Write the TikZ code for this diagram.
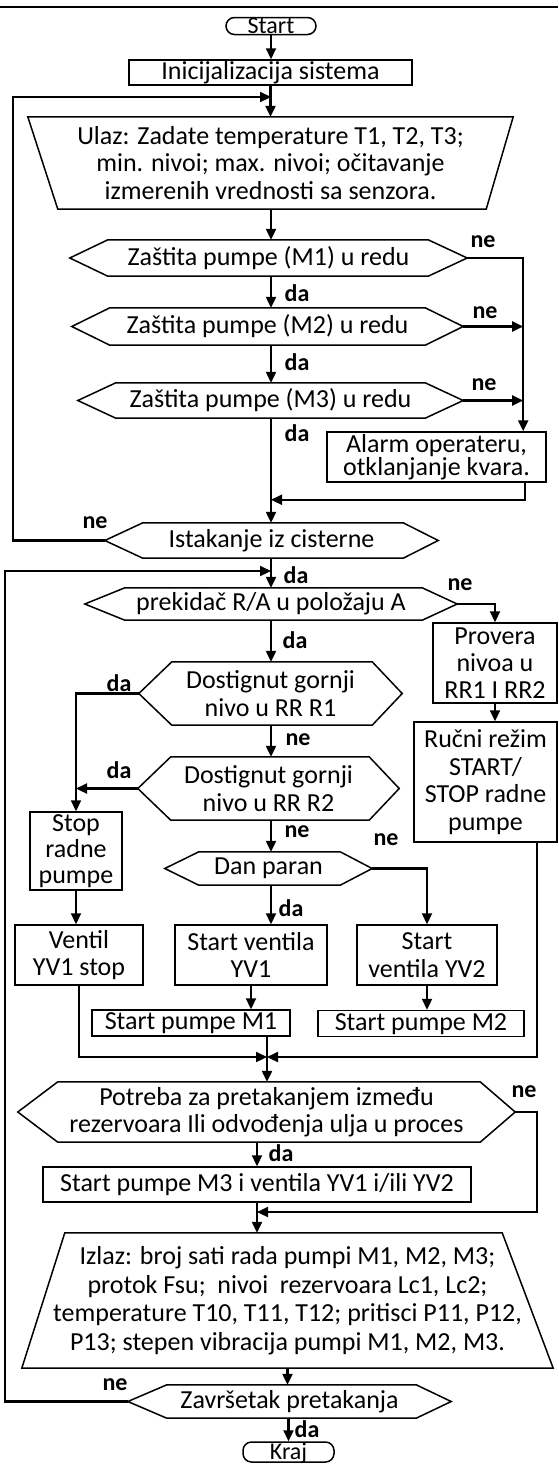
\documentclass[tikz,border=0pt]{standalone}
\usepackage{fontspec}
\setmainfont{Carlito}
\usetikzlibrary{arrows.meta,calc}
\tikzset{
  shp/.style={draw=black,line width=1.5pt},
  tx/.style={inner sep=0pt,align=center,font=\fontsize{26}{27.5}\selectfont},
  rbox/.style={tx,shp},
  term/.style={tx,shp,rounded corners=8.5pt,font=\fontsize{24}{26}\selectfont},
  con/.style={line width=2.2pt},
  arr/.style={con,-{Triangle[length=11pt,width=10pt]}},
  lbl/.style={inner sep=0pt,font=\bfseries\fontsize{24}{26}\selectfont},
}
\newcommand\hexa[3]{\draw[shp] (#1.west) -- ([xshift=#2]#1.north west) -- ([xshift=-#3]#1.north east) -- (#1.east) -- ([xshift=-#3]#1.south east) -- ([xshift=#2]#1.south west) -- cycle;}
\newcommand\trapdn[3]{\draw[shp] (#1.north west) -- (#1.north east) -- ([xshift=-#3]#1.south east) -- ([xshift=#2]#1.south west) -- cycle;}
\newcommand\trapup[3]{\draw[shp] ([xshift=#2]#1.north west) -- ([xshift=-#3]#1.north east) -- (#1.south east) -- (#1.south west) -- cycle;}
\begin{document}
\begin{tikzpicture}[x=1pt,y=-1pt]
\useasboundingbox (0,0) rectangle (558,1465);
\fill[white] (0,0) rectangle (558,1465);
\draw[line width=1.5pt] (0,7) -- (558,7);

% nodes
\node[term,minimum width=90pt,minimum height=17pt,text height=15.5pt,text depth=1.5pt] (start) at (271,26) {Start};
\node[rbox,minimum width=283pt,minimum height=25pt,text height=18pt,text depth=5pt] (init) at (270.5,72.5) {Inicijalizacija sistema};
\node[tx,minimum width=485pt,minimum height=92pt] (ulaz) at (270.5,163) {Ulaz: Zadate temperature T1, T2, T3;\\ min. nivoi; max. nivoi; očitavanje\\ izmerenih vrednosti sa senzora.};
\trapdn{ulaz}{30pt}{27pt}
\node[tx,minimum width=397pt,minimum height=36pt] (z1) at (268.5,258) {Zaštita pumpe (M1) u redu};
\hexa{z1}{38pt}{39pt}
\node[tx,minimum width=391pt,minimum height=37pt] (z2) at (267.5,326.5) {Zaštita pumpe (M2) u redu};
\hexa{z2}{38pt}{38pt}
\node[tx,minimum width=385pt,minimum height=35pt] (z3) at (270.5,400.5) {Zaštita pumpe (M3) u redu};
\hexa{z3}{38pt}{38pt}
\node[rbox,minimum width=219pt,minimum height=50pt,font=\fontsize{26}{23.5}\selectfont] (alarm) at (436.5,457) {Alarm operateru,\\ otklanjanje kvara.};
\node[tx,minimum width=333pt,minimum height=35pt] (ist) at (271.5,540.5) {Istakanje iz cisterne};
\hexa{ist}{38pt}{35pt}
\node[tx,minimum width=372pt,minimum height=32pt] (prek) at (271,604) {prekidač R/A u položaju A};
\hexa{prek}{40pt}{35pt}
\node[rbox,minimum width=124pt,minimum height=80pt,font=\fontsize{26}{27}\selectfont] (prov) at (495,663) {Provera\\ nivoa u\\ RR1 I RR2};
\node[rbox,minimum width=143pt,minimum height=120pt] (rucni) at (485.5,782) {Ručni režim\\ START/\\ STOP radne\\ pumpe};
\node[tx,minimum width=263pt,minimum height=63pt] (d1) at (270.5,693.5) {Dostignut gornji\\ nivo u RR R1};
\hexa{d1}{33pt}{30pt}
\node[tx,minimum width=261pt,minimum height=63pt] (d2) at (268.5,788.5) {Dostignut gornji\\ nivo u RR R2};
\hexa{d2}{33pt}{30pt}
\node[rbox,minimum width=92pt,minimum height=78pt,font=\fontsize{26}{26}\selectfont] (stop) at (76,851) {Stop\\ radne\\ pumpe};
\node[tx,minimum width=207pt,minimum height=33pt] (dan) at (268.5,868.5) {Dan paran};
\hexa{dan}{34pt}{32pt}
\node[rbox,minimum width=128pt,minimum height=60pt] (ventil) at (79,955) {Ventil\\ YV1 stop};
\node[rbox,minimum width=152pt,minimum height=60pt] (syv1) at (251,955) {Start ventila\\ YV1};
\node[rbox,minimum width=140pt,minimum height=60pt] (syv2) at (427,955) {Start\\ ventila YV2};
\node[rbox,minimum width=198pt,minimum height=26pt,text height=18pt,text depth=5pt] (m1) at (191,1023) {Start pumpe M1};
\node[rbox,minimum width=206pt,minimum height=26pt,text height=18pt,text depth=5pt] (m2) at (421,1023.5) {Start pumpe M2};
\node[tx,minimum width=497pt,minimum height=60pt] (pot) at (266.5,1112) {Potreba za pretakanjem između\\ rezervoara Ili odvođenja ulja u proces};
\hexa{pot}{40pt}{35pt}
\node[rbox,minimum width=428pt,minimum height=35pt] (m3) at (257,1184.5) {Start pumpe M3 i ventila YV1 i/ili YV2};
\node[tx,minimum width=531pt,minimum height=135pt,font=\fontsize{26}{28.5}\selectfont] (izl) at (287.5,1300.5) {Izlaz: broj sati rada pumpi M1, M2, M3;\\ protok Fsu;~ nivoi~ rezervoara Lc1, Lc2;\\ temperature T10, T11, T12; pritisci P11, P12,\\ P13; stepen vibracija pumpi M1, M2, M3.};
\trapup{izl}{43pt}{51pt}
\node[tx,minimum width=323pt,minimum height=33pt] (zav) at (289.5,1401.5) {Završetak pretakanja};
\hexa{zav}{39pt}{35pt}
\node[term,minimum width=91pt,minimum height=20pt,text height=17pt,text depth=3pt] (kraj) at (288.5,1452) {Kraj};

% labels
\node[lbl] (n1) at (483,242) {ne};
\node[lbl] (n2) at (485,313) {ne};
\node[lbl] (n3) at (484,385) {ne};
\node[lbl] (a1) at (297,293) {da};
\node[lbl] (a2) at (297,362) {da};
\node[lbl] (a3) at (297,433) {da};
\node[lbl] (n4) at (95,523) {ne};
\node[lbl] (a4) at (296,575) {da};
\node[lbl] (n5) at (460,585) {ne};
\node[lbl] (a5) at (295,640) {da};
\node[lbl] (a6) at (119,683) {da};
\node[lbl] (n6) at (298,740) {ne};
\node[lbl] (a7) at (119,770) {da};
\node[lbl] (n7) at (297,832) {ne};
\node[lbl] (n8) at (386,840) {ne};
\node[lbl] (a8) at (291,908) {da};
\node[lbl] (n9) at (524,1092) {ne};
\node[lbl] (a9) at (281,1153) {da};
\node[lbl] (n10) at (115,1385) {ne};
\node[lbl] (a10) at (307,1429) {da};

% connectors
\coordinate (j1) at (271,97);
\coordinate (j2) at (271,571);
\coordinate (j3) at (267,1057);
\coordinate (j4) at (257,1212);
\draw[arr] (start.south) -- (start.south |- init.north);
\draw[arr] (init.south) -- (init.south |- ulaz.north);
\draw[arr] (ist.west) -- ++(-92,0) |- (j1);
\draw[arr] (ulaz.south -| j1) -- (z1.north -| j1);
\draw[arr] (z1.south -| j1) -- (z2.north -| j1);
\draw[arr] (z2.south -| j1) -- (z3.north -| j1);
\draw[arr] (z3.south -| j1) -- (ist.north -| j1);
\draw[arr] (z1.east) -- ++(56,0) coordinate (c1) -- (c1 |- alarm.north);
\draw[arr] (z2.east) -- (z2.east -| c1);
\draw[arr] (z3.east) -- (z3.east -| c1);
\draw[arr] ([xshift=88.5pt]alarm.south) -- ++(0,17) coordinate (c2) -- (c2 -| j1);
\draw[arr] (zav.west) -- ++(-123,0) |- (j2);
\draw[arr] (ist.south -| j1) -- (prek.north -| j1);
\draw[arr] (prek.south -| j1) -- (d1.north -| j1);
\draw[arr] (prek.east) -| (prov.north);
\draw[arr] (prov.south) -- (prov.south |- rucni.north);
\draw[arr] (d1.south -| j1) -- (d2.north -| j1);
\draw[arr] (d1.west) -| (stop.north);
\draw[arr] (d2.west) -- (d2.west -| stop.north);
\draw[arr] (d2.south -| j1) -- (dan.north -| j1);
\draw[arr] (dan.east) -| (syv2.north);
\draw[arr] (dan.south -| j1) -- (syv1.north -| j1);
\draw[arr] (stop.south) -- (stop.south |- ventil.north);
\draw[arr] (syv1.south) -- (syv1.south |- m1.north);
\draw[arr] (syv2.south) -- (syv2.south |- m2.north);
\draw[arr] (ventil.south) |- (j3);
\draw[arr] ([xshift=51.5pt]rucni.south) |- (j3);
\draw[arr] (m1.south -| j3) -- (pot.north -| j3);
\draw[arr] (pot.south -| m3.north) -- (m3.north);
\draw[arr] (pot.east) -- ++(22,0) |- (j4);
\draw[arr] (m3.south) -- (m3.south |- izl.north);
\draw[arr] (izl.south) -- (izl.south |- zav.north);
\draw[arr] (kraj.north |- zav.south) -- (kraj.north);
\end{tikzpicture}
\end{document}
